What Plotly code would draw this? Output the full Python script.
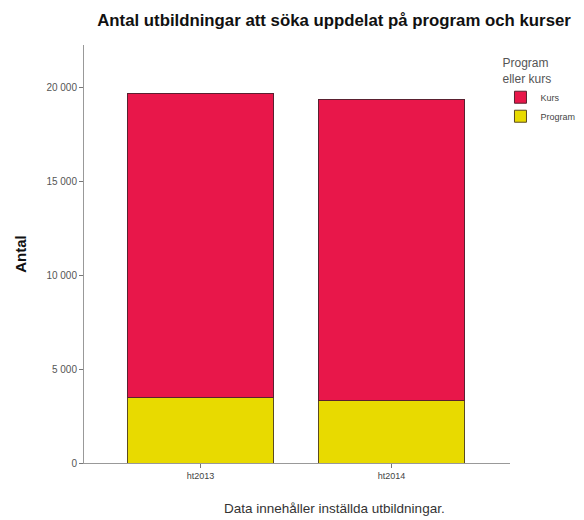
import plotly.graph_objects as go

# Data
terms = ["ht2013", "ht2014"]
program = [3510, 3300]
kurs = [16170, 16020]

colors = {"Kurs": "#E8174A", "Program": "#E8DA00"}
font = "Liberation Sans, Arial, sans-serif"

fig = go.Figure()

fig.add_trace(go.Bar(
    name="Program", x=terms, y=program, width=0.76,
    marker=dict(color=colors["Program"], line=dict(color="#5a4a20", width=1)),
))
fig.add_trace(go.Bar(
    name="Kurs", x=terms, y=kurs, width=0.76,
    marker=dict(color=colors["Kurs"], line=dict(color="#5a2030", width=1)),
))

# page body has an 8px margin, so the figure is sized 8px smaller
fig.update_layout(
    width=576, height=512,
    barmode="stack",
    plot_bgcolor="white", paper_bgcolor="white",
    separators=", ",
    font=dict(family=font, size=10, color="#444"),
    margin=dict(l=76, r=74, t=37, b=57, autoexpand=False),
    title=dict(
        text="<b>Antal utbildningar att söka uppdelat på program och kurser</b>",
        x=0.566, xanchor="center", y=0.977, yanchor="middle",
        font=dict(size=16.8, color="#111", family=font),
    ),
    legend=dict(
        title=dict(text="Program<br>eller kurs", side="top",
                   font=dict(size=12, color="#555")),
        traceorder="reversed",
        xref="container", yref="container",
        x=0.855, xanchor="left", y=0.915, yanchor="top",
        font=dict(size=9, color="#444"),
        itemwidth=30, tracegroupgap=0,
        bgcolor="rgba(0,0,0,0)",
    ),
    annotations=[dict(
        text="Data innehåller inställda utbildningar.",
        xref="paper", yref="paper", x=0.589, y=-0.110,
        xanchor="center", yanchor="middle", showarrow=False,
        font=dict(size=13.5, color="#333"),
    )],
)

fig.update_xaxes(
    range=[-0.61, 1.62],
    showline=True, linecolor="#999", linewidth=1,
    ticks="outside", ticklen=4, tickcolor="#777",
    tickfont=dict(size=9, color="#444"),
    showgrid=False,
)
fig.update_yaxes(
    range=[0, 22234],
    tickvals=[0, 5000, 10000, 15000, 20000],
    tickformat=",d",
    showline=True, linecolor="#999", linewidth=1,
    ticks="outside", ticklen=4, tickcolor="#777",
    tickfont=dict(size=10, color="#555"),
    showgrid=False, zeroline=False,
    title=dict(text="<b>Antal</b>", font=dict(size=15, color="#111"), standoff=16),
)

fig.write_html("out.html")
